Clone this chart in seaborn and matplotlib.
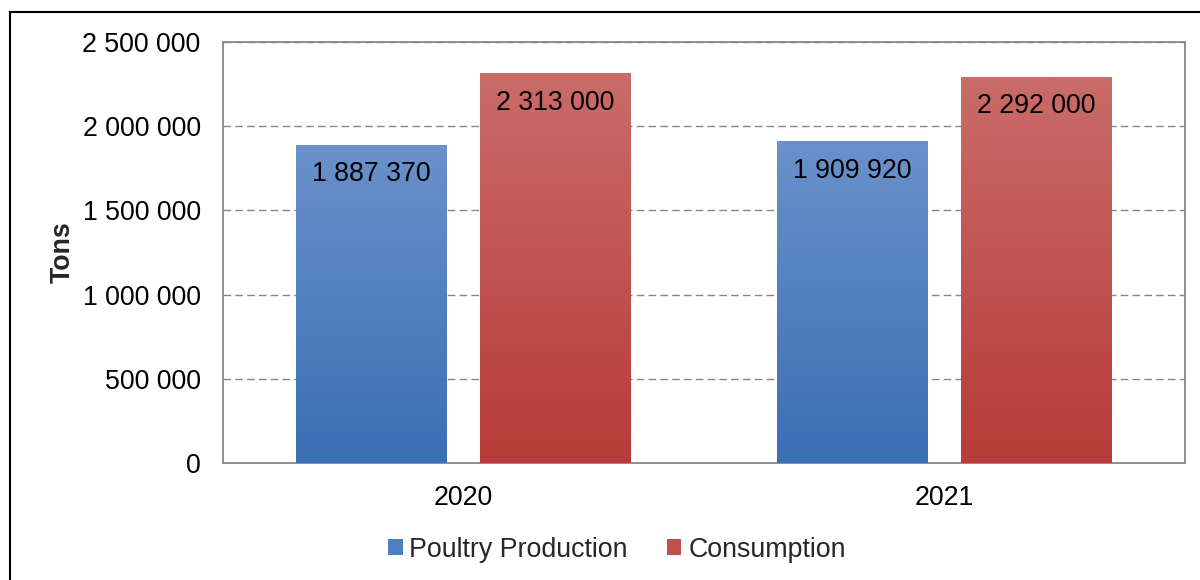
import numpy as np
import pandas as pd
import matplotlib
matplotlib.use("Agg")
import matplotlib.pyplot as plt
from matplotlib.patches import Patch, Rectangle
from matplotlib.ticker import FuncFormatter, MultipleLocator
from matplotlib.colors import to_rgb
import seaborn as sns

years = ["2020", "2021"]
series = ["Poultry Production", "Consumption"]
production = [1887370, 1909920]
consumption = [2313000, 2292000]

# gradient colours per series: (top, bottom)
grad = {
    "Poultry Production": ("#6A91CB", "#3A6FB4"),
    "Consumption": ("#CA6C69", "#B73B39"),
}
mid = {"Poultry Production": "#4F7FC0", "Consumption": "#C0504D"}

df = pd.DataFrame({
    "year": years * 2,
    "series": [series[0]] * 2 + [series[1]] * 2,
    "value": production + consumption,
})

sns.set_theme(style="white")
plt.rcParams["font.family"] = ["Liberation Sans", "DejaVu Sans"]
FS = 19.3

fig = plt.figure(figsize=(12, 5.8), dpi=100)
ax = fig.add_axes([0.1858, 0.2017, 0.8017, 0.7259])

sns.barplot(data=df, x="year", y="value", hue="series", hue_order=series,
            order=years, palette=mid, width=0.765, gap=0.184, legend=False,
            errorbar=None, ax=ax, zorder=2)

def fmt(v, pos=None):
    return f"{v:,.0f}".replace(",", " ")

# paint each bar with a vertical gradient and label it with its value
for name, cont in zip(series, ax.containers):
    top_c, bot_c = (np.array(to_rgb(c)) for c in grad[name])
    t = np.linspace(0, 1, 256)[:, None, None]
    img = top_c * (1 - t) + bot_c * t
    for rect in cont:
        x0 = rect.get_x()
        w = rect.get_width()
        h = rect.get_height()
        ax.imshow(img, extent=[x0, x0 + w, 0, h], aspect="auto",
                  origin="upper", zorder=3, interpolation="bilinear")
        rect.set_edgecolor("none")
        ax.annotate(fmt(h), (x0 + w / 2, h), xytext=(0, -21),
                    textcoords="offset points", ha="center", va="center",
                    fontsize=FS, color="black", zorder=5)

ax.set_xlim(-0.5, 1.5)
ax.set_ylim(0, 2500000)
ax.yaxis.set_major_locator(MultipleLocator(500000))
ax.yaxis.set_major_formatter(FuncFormatter(fmt))

ax.grid(axis="y", color="#868686", linestyle=(0, (5.5, 3)), linewidth=1.0)
ax.grid(axis="x", visible=False)
ax.set_axisbelow(True)
for s in ax.spines.values():
    s.set_visible(True)
    s.set_color("#868686")
    s.set_linewidth(1.3)

ax.tick_params(axis="both", length=0, labelsize=FS, colors="black")
ax.tick_params(axis="y", pad=16)
ax.tick_params(axis="x", pad=16)
ax.set_xlabel("")
ax.set_ylabel("Tons", fontsize=FS, fontweight="bold")
ax.yaxis.set_label_coords(-0.153, 0.5)

handles = [Patch(facecolor=mid[s], edgecolor="none", label=s) for s in series]
fig.legend(handles=handles, loc="center", bbox_to_anchor=(0.514, 0.052),
           ncol=2, frameon=False, fontsize=FS, handlelength=0.55,
           handleheight=0.55, handletextpad=0.25, columnspacing=1.45)

# outer chart border
fig.patches.append(Rectangle((10 / 1200, -0.1), 1.2, (1 - 12 / 580) + 0.1,
                             transform=fig.transFigure, fill=False,
                             edgecolor="black", linewidth=1.5, zorder=10))

fig.savefig("out.png", dpi=100)
